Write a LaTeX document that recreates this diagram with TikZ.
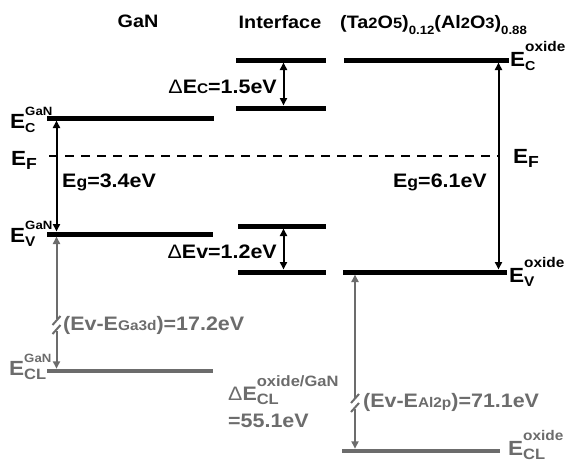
\documentclass[tikz,border=0pt]{standalone}
\usepackage{fontspec}
\setmainfont[FakeStretch=1.1]{Liberation Sans}
\usetikzlibrary{arrows.meta}
\definecolor{gr}{RGB}{108,108,108}
\newcommand\fs[1]{\fontsize{#1}{#1}\selectfont}
\newcommand\lv[5]{E\setbox0=\hbox{\fs{#3}#1}\setbox2=\hbox{\fs{#4}#2}\rlap{\raisebox{-4pt}{\copy0}}\raisebox{#5}{\copy2}\ifdim\wd0>\wd2 \hspace{\dimexpr\wd0-\wd2\relax}\fi}
\newcommand\sm[2]{{\fs{#1}#2}}
\begin{document}
\begin{tikzpicture}[x=1pt,y=-1pt,
  lvl/.style={line width=5pt},
  cl/.style={line width=4.5pt,draw=gr},
  tip/.tip={Triangle[length=7.5pt,width=7pt]},
  arr/.style={line width=2pt,tip-tip,shorten <=2.5pt,shorten >=2.5pt},
  gl/.style={line width=2pt,draw=gr},
  lab/.style={font=\bfseries\fs{19.5},inner sep=0pt},
  llab/.style={font=\bfseries\fs{20.5},inner sep=0pt},
  glab/.style={lab,text=gr},
  gllab/.style={llab,text=gr},
  ttl/.style={font=\bfseries\fs{18},inner sep=0pt}]
\useasboundingbox (0,0) rectangle (565,461);

% titles
\node[ttl,anchor=base] (tGaN) at (138,27) {GaN};
\node[ttl,anchor=base] (tInt) at (280,28) {Interface};
\node[ttl,anchor=base west] (tOx) at (340,28) {(Ta\sm{15}{2}O\sm{15}{5})\raisebox{-6pt}{\sm{12}{0.12}}(Al\sm{15}{2}O\sm{15}{3})\raisebox{-6pt}{\sm{12}{0.88}}};

% level coordinates
\coordinate (gc1) at (47,118);  \coordinate (gc2) at (214,118);
\coordinate (gv1) at (47,234);  \coordinate (gv2) at (213,234);
\coordinate (gl1) at (47,371);  \coordinate (gl2) at (213,371);
\coordinate (ic1) at (236,60);  \coordinate (ic2) at (326,60);
\coordinate (id1) at (236,108); \coordinate (id2) at (326,108);
\coordinate (iv1) at (238,226); \coordinate (iv2) at (326,226);
\coordinate (iw1) at (238,272); \coordinate (iw2) at (326,272);
\coordinate (oc1) at (344,60);  \coordinate (oc2) at (509,60);
\coordinate (ov1) at (343,272); \coordinate (ov2) at (507,272);
\coordinate (ol1) at (342,451); \coordinate (ol2) at (500,451);
\coordinate (ef1) at (49,156);  \coordinate (ef2) at (498.5,156);

\draw[lvl] (gc1) -- (gc2);
\draw[lvl] (gv1) -- (gv2);
\draw[cl]  (gl1) -- (gl2);
\draw[lvl] (ic1) -- (ic2);
\draw[lvl] (id1) -- (id2);
\draw[lvl] (iv1) -- (iv2);
\draw[lvl] (iw1) -- (iw2);
\draw[lvl] (oc1) -- (oc2);
\draw[lvl] (ov1) -- (ov2);
\draw[cl]  (ol1) -- (ol2);
\draw[line width=2.2pt,dash pattern=on 9pt off 7pt] (ef1) -- (ef2);

% arrows
\coordinate (a1t) at (56.5,118); \coordinate (a1b) at (56.5,234);
\draw[arr] (a1t) -- (a1b);
\coordinate (a2t) at (283.5,60); \coordinate (a2b) at (283.5,108);
\draw[arr] (a2t) -- (a2b);
\coordinate (a3t) at (283.5,226); \coordinate (a3b) at (283.5,272);
\draw[arr] (a3t) -- (a3b);
\coordinate (a4t) at (498.5,60); \coordinate (a4b) at (498.5,272);
\draw[arr] (a4t) -- (a4b);

% gray GaN core-level arrow with break
\coordinate (b1t) at (56.5,234); \coordinate (b1m) at (56.5,319);
\coordinate (b1n) at (56.5,331); \coordinate (b1b) at (56.5,371);
\draw[gl,tip-,shorten <=2.5pt] (b1t) -- (b1m);
\draw[gl,-tip,shorten >=2.25pt] (b1n) -- (b1b);
\draw[gl] (52.5,325) -- (60.5,316);
\draw[gl] (52.5,334) -- (60.5,325);

% gray oxide core-level arrow with break
\coordinate (b2t) at (355,272); \coordinate (b2m) at (355,398);
\coordinate (b2n) at (355,409); \coordinate (b2b) at (355,451);
\draw[gl,tip-,shorten <=2.5pt] (b2t) -- (b2m);
\draw[gl,-tip,shorten >=2.25pt] (b2n) -- (b2b);
\draw[gl] (351,403) -- (359,394);
\draw[gl] (351,412) -- (359,403);

% level labels
\node[llab,anchor=base west] (lEcG) at (10,128) {\lv{C}{GaN}{13}{12}{13pt}};
\node[llab,anchor=base west] (lEfL) at (11,165) {E\raisebox{-4pt}{\sm{16}{F}}};
\node[llab,anchor=base west] (lEvG) at (10,242) {\lv{V}{GaN}{14}{12}{13pt}};
\node[gllab,anchor=base west] (lElG) at (9,375) {\lv{CL}{GaN}{15}{12}{13pt}};
\node[llab,anchor=base west] (lEcO) at (510,66) {\lv{C}{oxide}{13}{14}{15pt}};
\node[llab,anchor=base west] (lEfR) at (513,163) {E\raisebox{-4pt}{\sm{16}{F}}};
\node[llab,anchor=base west] (lEvO) at (509,282) {\lv{V}{oxide}{14}{14}{15pt}};
\node[gllab,anchor=base west] (lElO) at (508,455) {\lv{CL}{oxide}{15}{14}{15pt}};

% value labels
\node[lab,anchor=base east] (dEc) at (277,93) {{\mdseries Δ}E\sm{14}{C}=1.5eV};
\node[lab,anchor=base west] (EgG) at (62,187) {E\sm{16}{g}=3.4eV};
\node[lab,anchor=base east] (EgO) at (487,187) {E\sm{16}{g}=6.1eV};
\node[lab,anchor=base east] (dEv) at (277,258) {{\mdseries Δ}Ev=1.2eV};
\node[glab,anchor=base west] (vGa) at (63,330) {(Ev-E\sm{14}{Ga3d})=17.2eV};
\node[glab,anchor=base west] (vAl) at (363,407) {(Ev-E\sm{14}{Al2p})=71.1eV};
\node[glab,anchor=base west] (dCL) at (228,400) {{\mdseries Δ}\lv{CL}{oxide/GaN}{15}{15}{14pt}};
\node[glab,anchor=base west] (dCLv) at (228,427) {=55.1eV};
\end{tikzpicture}
\end{document}
